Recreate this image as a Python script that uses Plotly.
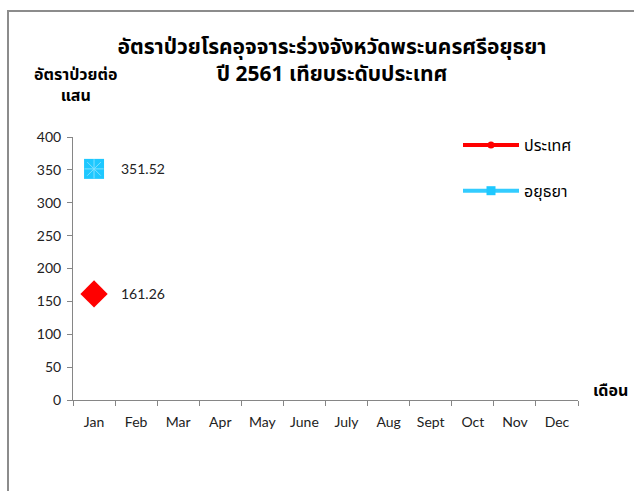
import plotly.graph_objects as go

months = ["Jan", "Feb", "Mar", "Apr", "May", "June", "July", "Aug", "Sept", "Oct", "Nov", "Dec"]
country_vals = [161.26]
ayutthaya_vals = [351.52]
country_name = "ประเทศ"
ayutthaya_name = "อยุธยา"
y_ticks = [0, 50, 100, 150, 200, 250, 300, 350, 400]

W, H = 634, 491
L, R, T, B = 73, 56, 137, 91
pw, ph = W - L - R, H - T - B

def px(x):
    return (x - L) / pw

def py(y):
    return (H - B - y) / ph

tick_font = dict(family="Lato, Noto Sans, sans-serif", size=14, color="#222222")
thai_font = "Noto Sans Thai, Noto Sans, Leelawadee UI, sans-serif"

fig = go.Figure()

fig.add_trace(go.Scatter(
    x=months[:len(country_vals)], y=country_vals, mode="markers",
    marker=dict(symbol="diamond", size=21, color="#FF0000"),
    showlegend=False, cliponaxis=False))
fig.add_trace(go.Scatter(
    x=months[:len(ayutthaya_vals)], y=ayutthaya_vals, mode="markers",
    marker=dict(symbol="square", size=20, color="#1EC8FF", line=dict(width=0)),
    showlegend=False, cliponaxis=False))
fig.add_trace(go.Scatter(
    x=months[:len(ayutthaya_vals)], y=ayutthaya_vals, mode="markers",
    marker=dict(symbol="asterisk-open", size=16, color="#7FE0FF",
                line=dict(width=1, color="#7FE0FF")),
    showlegend=False, hoverinfo="skip"))

# data labels
for series in (country_vals, ayutthaya_vals):
    for m, v in zip(months, series):
        fig.add_annotation(x=m, y=v, xref="x", yref="y", text=f"{v:.2f}",
                           showarrow=False, xanchor="left", yanchor="middle",
                           xshift=25, font=tick_font)

# legend entries
fig.add_trace(go.Scatter(
    x=[months[0]], y=[None], mode="lines+markers", name=country_name,
    line=dict(color="#FF0000", width=4),
    marker=dict(symbol="circle", size=7, color="#FF0000"),
    legendgroup="a"))
fig.add_trace(go.Scatter(
    x=[months[0]], y=[None], mode="lines+markers", name=ayutthaya_name,
    line=dict(color="#33CCFF", width=4),
    marker=dict(symbol="square", size=9, color="#1EC8FF"),
    legendgroup="b"))

fig.update_layout(
    width=W, height=H,
    margin=dict(l=L, r=R, t=T, b=B),
    paper_bgcolor="white", plot_bgcolor="white",
    title=dict(
        text="อัตราป่วยโรคอุจจาระร่วงจังหวัดพระนครศรีอยุธยา<br>ปี 2561 เทียบระดับประเทศ",
        x=332 / W, xanchor="center", y=1 - 54 / H, yanchor="middle",
        font=dict(family=thai_font, size=21, color="#000000", weight="bold")),
    xaxis=dict(
        type="category", categoryorder="array", categoryarray=months,
        range=[-0.5, 11.5], showgrid=False, showline=True,
        linecolor="#868686", linewidth=1, ticks="outside", tickson="boundaries",
        ticklen=5, tickcolor="#868686", tickfont=tick_font, zeroline=False,
        ticklabelstandoff=9),
    yaxis=dict(
        range=[0, 400], tickvals=y_ticks, showgrid=False, showline=True,
        linecolor="#868686", linewidth=1, ticks="outside", ticklen=5,
        tickcolor="#868686", tickfont=tick_font, zeroline=False,
        ticklabelstandoff=3),
    legend=dict(
        x=px(458), y=py(128), xanchor="left", yanchor="top",
        font=dict(family=thai_font, size=16, color="#000000"),
        tracegroupgap=22, itemwidth=56, bgcolor="rgba(0,0,0,0)"),
    showlegend=True,
)

fig.add_annotation(
    text="<b>อัตราป่วยต่อ<br>แสน</b>", xref="paper", yref="paper",
    x=px(76), y=py(85), xanchor="center", yanchor="middle", showarrow=False,
    font=dict(family=thai_font, size=16, color="#000000"))
fig.add_annotation(
    text="<b>เดือน</b>", xref="paper", yref="paper",
    x=px(610), y=py(391), xanchor="center", yanchor="middle", showarrow=False,
    font=dict(family=thai_font, size=16, color="#000000"))

# outer chart frame (top and left edges visible)
fig.add_shape(type="rect", xref="paper", yref="paper",
              x0=px(8), y0=py(520), x1=px(660), y1=py(11),
              line=dict(color="#8C8C8C", width=2), layer="below")

fig.write_html("out.html", config={"displayModeBar": False},
               post_script="document.body.style.margin='0';")
